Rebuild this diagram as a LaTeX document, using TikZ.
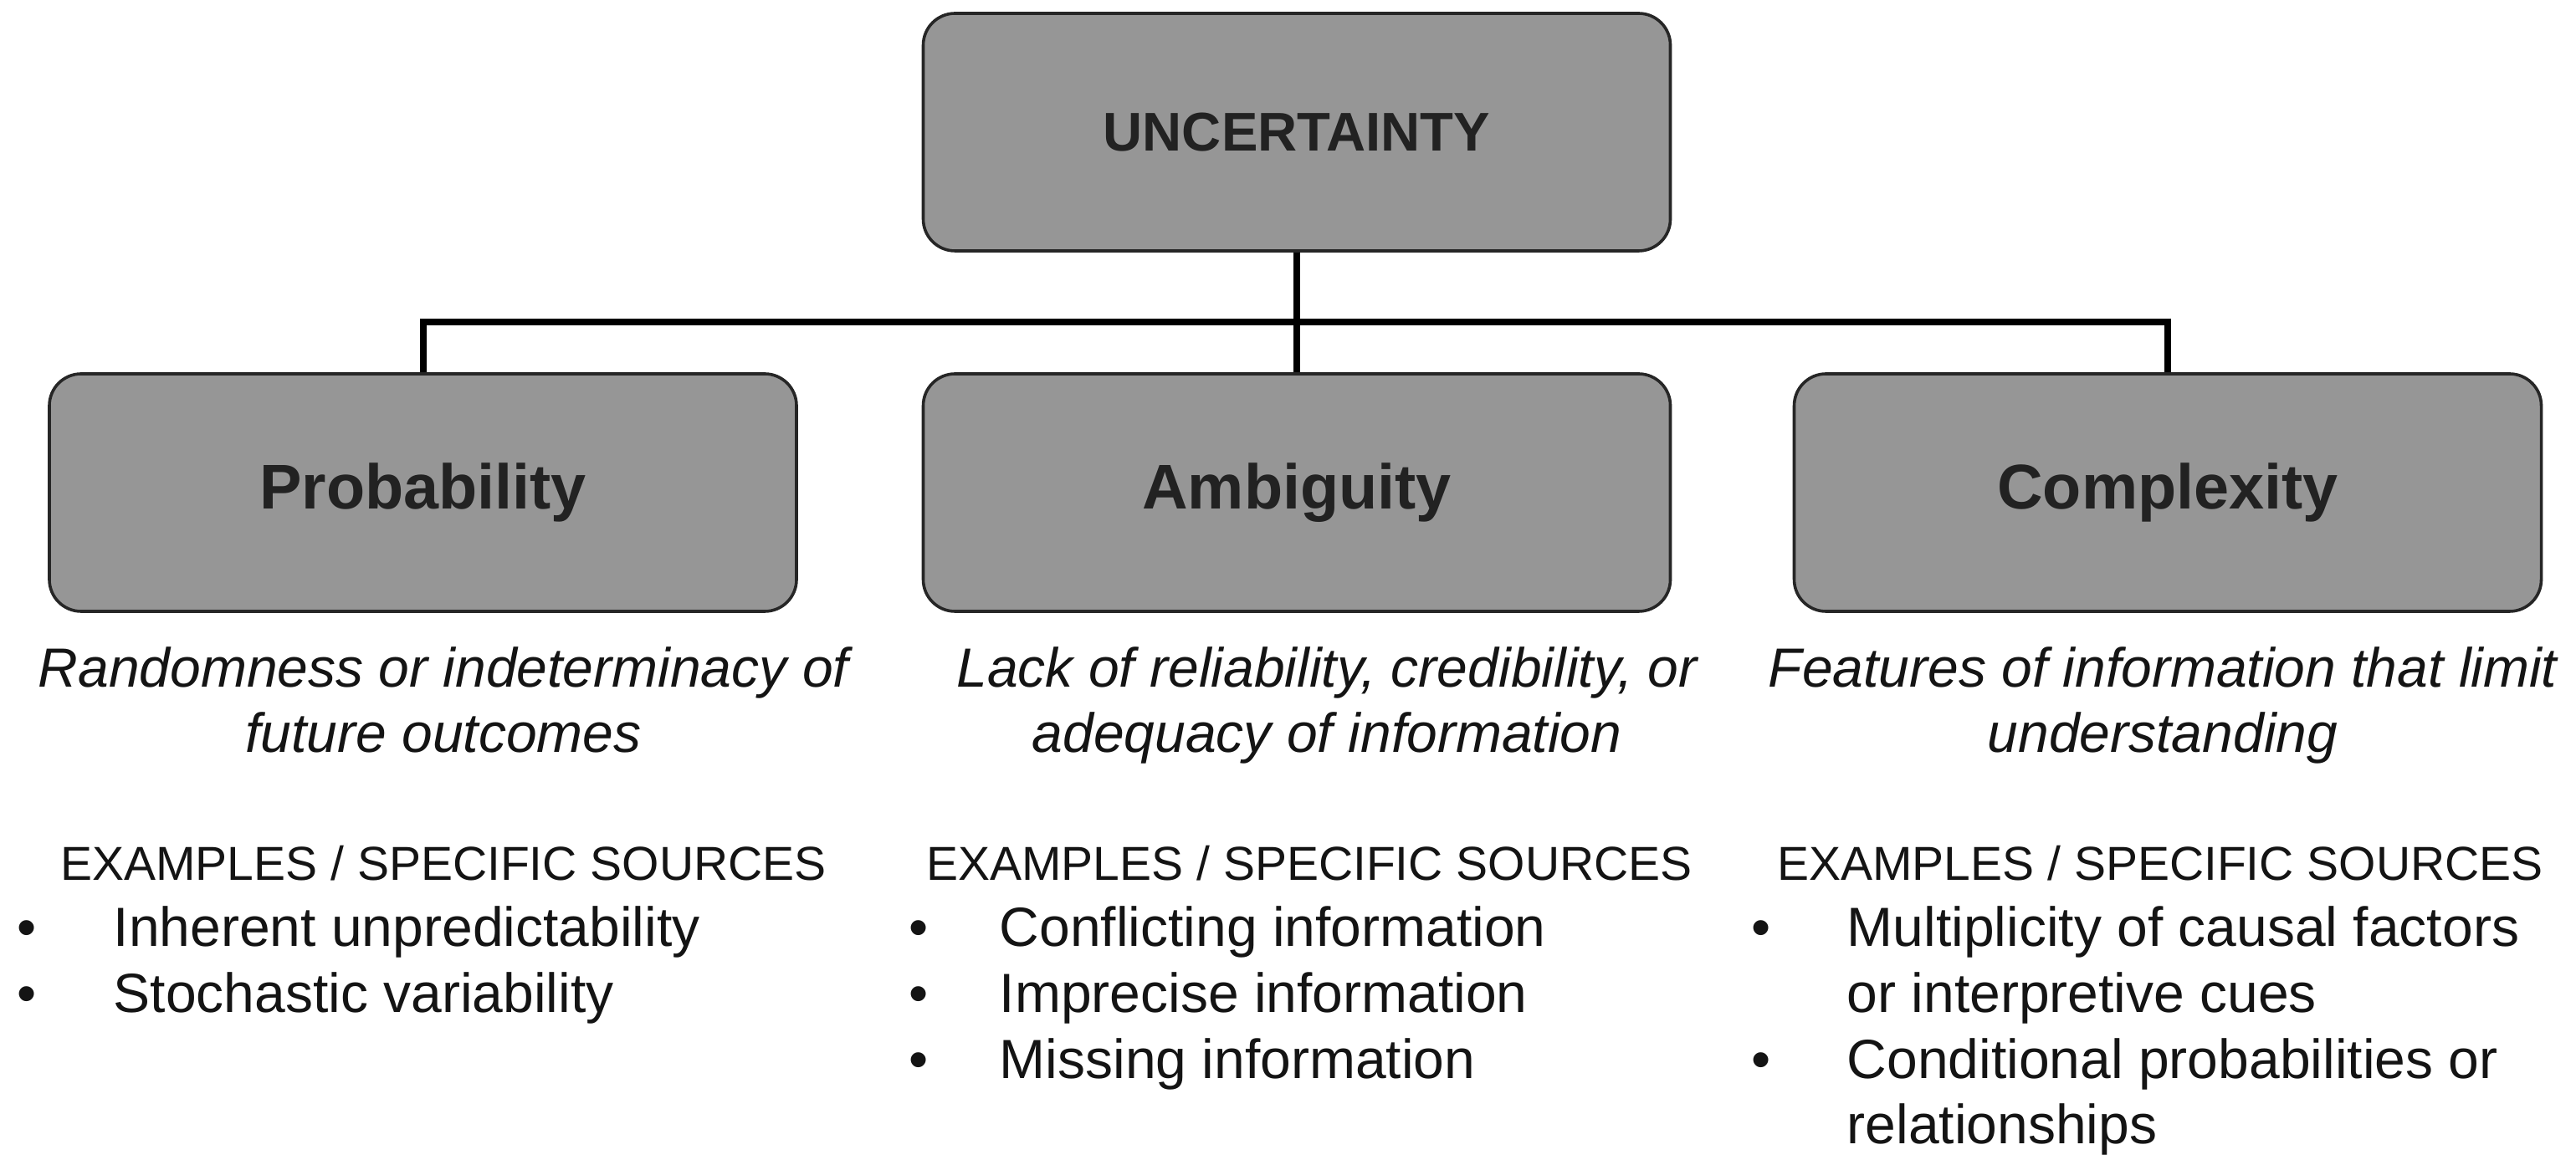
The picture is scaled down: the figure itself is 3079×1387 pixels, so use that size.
\documentclass[tikz,border=0pt]{standalone}
\usepackage{fontspec}
\setmainfont{Liberation Sans}
\definecolor{boxfill}{RGB}{150,150,150}
\definecolor{boxtext}{RGB}{34,34,34}
\definecolor{bodytext}{RGB}{20,20,20}
\begin{document}
\begin{tikzpicture}[x=0.25pt,y=-0.25pt,
  box/.style={draw=black!85, line width=0.9pt, fill=boxfill, rounded corners=9.5pt,
    minimum width=223.25pt, minimum height=71pt, inner sep=0pt, text=boxtext},
  boxlabel/.style={font=\fontsize{18.9}{22}\selectfont\bfseries},
  conn/.style={line width=2pt, black},
  desc/.style={anchor=base, inner sep=0pt, text=bodytext, font=\fontsize{16.5}{19}\selectfont\itshape},
  exhead/.style={anchor=base, inner sep=0pt, text=bodytext, font=\fontsize{14.25}{17}\selectfont},
  itemtext/.style={anchor=base west, inner sep=0pt, text=bodytext, font=\fontsize{16.5}{19}\selectfont},
  bul/.style={anchor=base, inner sep=0pt, text=bodytext, font=\fontsize{16.5}{19}\selectfont}]
\useasboundingbox[fill=white] (0,0) rectangle (3079,1387);

% boxes
\node[box, font=\fontsize{16.3}{19}\selectfont\bfseries] (unc) at (1550,158) {UNCERTAINTY};
\node[box, boxlabel] (prob) at (505.5,589) {Probability};
\node[box, boxlabel] (amb) at (1550,589) {Ambiguity};
\node[box, boxlabel] (comp) at (2591,589) {Complexity};

% connectors
\coordinate (bar) at (0,385);
\draw[conn] (unc.south) -- (amb.north);
\draw[conn] (prob.north) -- (prob.north |- bar) -- (comp.north |- bar) -- (comp.north);

% descriptions
\node[desc] (pd1) at (530,822) {Randomness or indeterminacy of};
\node[desc] (pd2) at (530,900) {future outcomes};
\node[desc] (ad1) at (1586,822) {Lack of reliability, credibility, or};
\node[desc] (ad2) at (1586,900) {adequacy of information};
\node[desc] (cd1) at (2585,822) {Features of information that limit};
\node[desc] (cd2) at (2585,900) {understanding};

% headings
\node[exhead] (pe) at (530,1053) {EXAMPLES / SPECIFIC SOURCES};
\node[exhead] (ae) at (1565,1053) {EXAMPLES / SPECIFIC SOURCES};
\node[exhead] (ce) at (2582,1053) {EXAMPLES / SPECIFIC SOURCES};

% probability items
\node[bul] (pb1) at (32,1132) {•};
\node[itemtext] (pi1) at (135,1132) {Inherent unpredictability};
\node[bul] (pb2) at (32,1210) {•};
\node[itemtext] (pi2) at (135,1210) {Stochastic variability};

% ambiguity items
\node[bul] (ab1) at (1098,1132) {•};
\node[itemtext] (ai1) at (1194,1132) {Conflicting information};
\node[bul] (ab2) at (1098,1210) {•};
\node[itemtext] (ai2) at (1194,1210) {Imprecise information};
\node[bul] (ab3) at (1098,1289) {•};
\node[itemtext] (ai3) at (1194,1289) {Missing information};

% complexity items
\node[bul] (cb1) at (2105,1132) {•};
\node[itemtext] (ci1) at (2207,1132) {Multiplicity of causal factors};
\node[itemtext] (ci1b) at (2207,1210) {or interpretive cues};
\node[bul] (cb2) at (2105,1289) {•};
\node[itemtext] (ci2) at (2207,1289) {Conditional probabilities or};
\node[itemtext] (ci2b) at (2207,1367) {relationships};
\end{tikzpicture}
\end{document}
